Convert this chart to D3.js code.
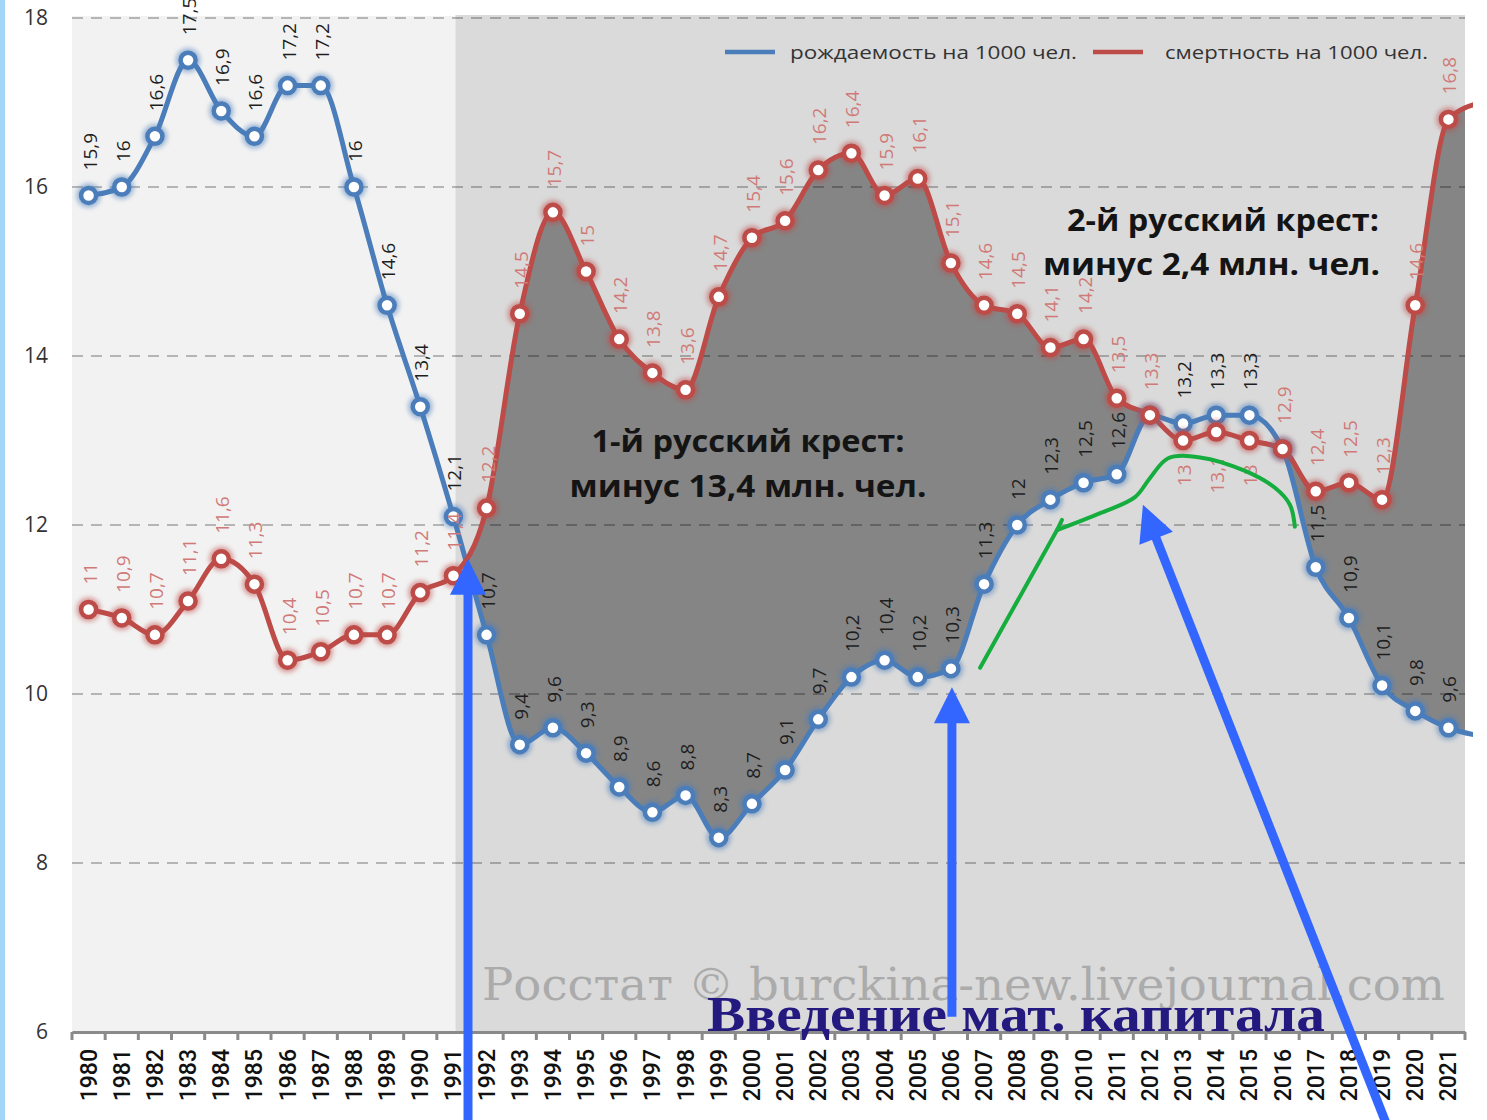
<!DOCTYPE html>
<html>
<head>
<meta charset="utf-8">
<script src="https://d3js.org/d3.v7.min.js"></script>
<style>
  body { margin: 0; background: #fff; }
  svg { display: block; font-family: "Open Sans", sans-serif; }
  .val { font-size: 19px; }
  .yl { font-size: 21px; fill: #333; }
  .xl { font-family: Roboto, sans-serif; font-size: 23px; font-weight: 500; fill: #111; }
</style>
</head>
<body>
<svg id="chart" width="1487" height="1120"></svg>
<script>
// years on the axis
const years = [1980,1981,1982,1983,1984,1985,1986,1987,1988,1989,1990,1991,1992,1993,1994,1995,
  1996,1997,1998,1999,2000,2001,2002,2003,2004,2005,2006,2007,2008,2009,2010,2011,2012,2013,
  2014,2015,2016,2017,2018,2019,2020,2021];
// рождаемость / смертность на 1000 чел.
const birth = [15.9,16,16.6,17.5,16.9,16.6,17.2,17.2,16,14.6,13.4,12.1,
  10.7,9.4,9.6,9.3,8.9,8.6,8.8,8.3,8.7,9.1,
  9.7,10.2,10.4,10.2,10.3,11.3,12,12.3,12.5,12.6,
  13.3,13.2,13.3,13.3,12.9,11.5,10.9,10.1,9.8,9.6];
const death = [11,10.9,10.7,11.1,11.6,11.3,10.4,10.5,10.7,10.7,11.2,11.4,
  12.2,14.5,15.7,15,14.2,13.8,13.6,14.7,15.4,15.6,
  16.2,16.4,15.9,16.1,15.1,14.6,14.5,14.1,14.2,13.5,
  13.3,13,13.1,13,12.9,12.4,12.5,12.3,14.6,16.8];
// the lines run a little past 2021 and get cut at the frame
const tailYear = 2022, birthTail = 9.5, deathTail = 17.0;
const yTicks = [6,8,10,12,14,16,18];
const noBirthLabel = [2012, 2016];
const deathLabelBelow = [2013, 2014, 2015];
const splitYear = 1991;

const pLeft = 72, pRight = 1465, pTop = 18, pBottom = 1032;
const svg = d3.select("#chart");

const x = d3.scaleBand().domain(years).range([pLeft, pRight]);
const bw = x.bandwidth();
const cx = yr => yr === tailYear ? x(2021) + bw * 1.5 : x(yr) + bw / 2;
// continuous year scale for annotations
const xl = d3.scaleLinear().domain([1980, 2021]).range([cx(1980), cx(2021)]);
const y = d3.scaleLinear().domain([6, 18]).range([pBottom, pTop]);

const bPts = years.map((yr, i) => [yr, birth[i]]).concat([[tailYear, birthTail]]);
const dPts = years.map((yr, i) => [yr, death[i]]).concat([[tailYear, deathTail]]);

const defs = svg.append("defs");
defs.append("filter").attr("id", "glow").attr("x", "-50%").attr("y", "-50%")
  .attr("width", "200%").attr("height", "200%")
  .append("feGaussianBlur").attr("stdDeviation", 2.5);
defs.append("clipPath").attr("id", "plotClip").append("rect")
  .attr("x", pLeft).attr("y", 0).attr("width", pRight - pLeft).attr("height", pBottom);
defs.append("clipPath").attr("id", "lineClip").append("rect")
  .attr("x", 0).attr("y", 0).attr("width", pRight + 8).attr("height", 1120);

const curve = d3.curveMonotoneX;
// region below the red line -> used as clip for the fill above the blue line
defs.append("clipPath").attr("id", "belowDeath").append("path")
  .attr("d", d3.area().curve(curve).x(d => cx(d[0])).y0(pBottom + 50).y1(d => y(d[1]))(dPts));

// backgrounds
svg.append("rect").attr("x", pLeft).attr("y", pTop - 2).attr("width", cx(splitYear) + 2 - pLeft)
  .attr("height", pBottom - pTop + 2).attr("fill", "#f2f2f2");
svg.append("rect").attr("x", cx(splitYear) + 2).attr("y", pTop - 3).attr("width", pRight - cx(splitYear) - 2)
  .attr("height", pBottom - pTop + 3).attr("fill", "#dadada");

// loss area
svg.append("g").attr("clip-path", "url(#plotClip)")
  .append("g").attr("clip-path", "url(#belowDeath)")
  .append("path")
  .attr("d", d3.area().curve(curve).x(d => cx(d[0])).y0(-50).y1(d => y(d[1]))(bPts))
  .attr("fill", "#858585");

// grid
svg.append("g").selectAll("line").data(yTicks.filter(t => t > 6)).join("line")
  .attr("x1", pLeft).attr("x2", pRight).attr("y1", d => y(d)).attr("y2", d => y(d))
  .attr("stroke", "rgba(0,0,0,0.25)").attr("stroke-width", 2).attr("stroke-dasharray", "11,8");

// y labels
svg.append("g").selectAll("text").data(yTicks).join("text").attr("class", "yl")
  .attr("x", 48).attr("y", d => y(d) + 7).attr("text-anchor", "end").text(d => d);

// x axis
const xAxis = svg.append("g").attr("transform", `translate(0,${pBottom})`)
  .call(d3.axisBottom(x).tickSize(0).tickFormat(""));
xAxis.select(".domain").attr("stroke", "#8a8a8a").attr("stroke-width", 3);
svg.append("g").selectAll("line").data(years.concat([tailYear])).join("line")
  .attr("x1", d => d === tailYear ? pRight : x(d)).attr("x2", d => d === tailYear ? pRight : x(d))
  .attr("y1", pBottom).attr("y2", pBottom + 8).attr("stroke", "#8a8a8a").attr("stroke-width", 3);
svg.append("g").selectAll("text").data(years).join("text").attr("class", "xl")
  .attr("transform", d => `translate(${cx(d) + 8},${pBottom + 17}) rotate(-90)`)
  .attr("text-anchor", "end").text(d => d);

// lines
const line = d3.line().curve(curve).x(d => cx(d[0])).y(d => y(d[1]));
const series = [
  {pts: bPts, color: "#4a7dba", label: "#1e1e1e", skip: noBirthLabel, below: []},
  {pts: dPts, color: "#bd4b48", label: "#d07a78", skip: [], below: deathLabelBelow}
];
series.forEach(s => {
  svg.append("path").attr("clip-path", "url(#lineClip)").attr("d", line(s.pts))
    .attr("fill", "none").attr("stroke", s.color).attr("stroke-width", 5);
});
series.forEach(s => {
  const pts = s.pts.filter(d => d[0] !== tailYear);
  const g = svg.append("g");
  g.selectAll("circle.halo").data(pts).join("circle").attr("class", "halo")
    .attr("cx", d => cx(d[0])).attr("cy", d => y(d[1])).attr("r", 12)
    .attr("fill", s.color).attr("opacity", 0.55).attr("filter", "url(#glow)");
  g.selectAll("circle.dot").data(pts).join("circle").attr("class", "dot")
    .attr("cx", d => cx(d[0])).attr("cy", d => y(d[1])).attr("r", 7.5)
    .attr("fill", "#fff").attr("stroke", s.color).attr("stroke-width", 4.5);
  svg.append("g").selectAll("text").data(pts.filter(d => !s.skip.includes(d[0]))).join("text")
    .attr("class", "val").attr("fill", s.label)
    .attr("transform", d => {
      const b = s.below.includes(d[0]);
      return `translate(${cx(d[0]) + 8},${y(d[1]) + (b ? 24 : -25)}) rotate(-90)`;
    })
    .attr("text-anchor", d => s.below.includes(d[0]) ? "end" : "start")
    .text(d => String(d[1]).replace(".", ","));
});

// legend
const legend = [
  {x: 725, color: "#4a7dba", text: "рождаемость на 1000 чел.", w: 287},
  {x: 1093, color: "#bd4b48", text: "смертность на 1000 чел.", w: 263}
];
const lg = svg.append("g").selectAll("g").data(legend).join("g");
lg.append("line").attr("x1", d => d.x).attr("x2", d => d.x + 50).attr("y1", 52).attr("y2", 52)
  .attr("stroke", d => d.color).attr("stroke-width", 4.5);
lg.append("text").attr("x", d => d.x + 65 + (d.x > 1000 ? 7 : 0)).attr("y", 59)
  .attr("font-size", 19).attr("fill", "#333")
  .attr("textLength", d => d.w).attr("lengthAdjust", "spacingAndGlyphs").text(d => d.text);

// captions
const bold = (tx, ty, anchor, str, w) => svg.append("text").attr("x", tx).attr("y", ty)
  .attr("text-anchor", anchor).attr("font-size", 30).attr("font-weight", 700).attr("fill", "#141414")
  .attr("textLength", w).attr("lengthAdjust", "spacingAndGlyphs").text(str);
bold(748, 452, "middle", "1-й русский крест:", 313);
bold(748, 497, "middle", "минус 13,4 млн. чел.", 357);
bold(1379, 231, "end", "2-й русский крест:", 312);
bold(1380, 275, "end", "минус 2,4 млн. чел.", 337);

// watermark
svg.append("text").attr("x", 482).attr("y", 1000).attr("font-family", "'DejaVu Serif', serif")
  .attr("font-size", 44).attr("fill", "#ababab")
  .attr("textLength", 963).attr("lengthAdjust", "spacingAndGlyphs")
  .text("Росстат © burckina-new.livejournal.com");

// annotations drawn on top
const arrows = [
  {from: [1991.44, 4.9], to: [1991.44, 11.6]},
  {from: [2006.03, 6.18], to: [2006.03, 10.08]},
  {from: [2019.14, 4.9], to: [2011.79, 12.24]}
];
arrows.forEach(a => {
  const x1 = xl(a.from[0]), y1 = y(a.from[1]), x2 = xl(a.to[0]), y2 = y(a.to[1]);
  const len = Math.hypot(x2 - x1, y2 - y1), ux = (x2 - x1) / len, uy = (y2 - y1) / len;
  const L = 36, W = 18, bx = x2 - ux * L, by = y2 - uy * L;
  svg.append("line").attr("x1", x1).attr("y1", y1).attr("x2", bx + ux * 2).attr("y2", by + uy * 2)
    .attr("stroke", "#3366ff").attr("stroke-width", 9);
  svg.append("polygon").attr("fill", "#3366ff")
    .attr("points", [[x2, y2], [bx - uy * W, by + ux * W], [bx + uy * W, by - ux * W]].join(" "));
});

const greenA = [[2006.88, 10.31], [2009.20, 11.94]];
const greenHook = [[2009.20, 11.94], [2009.35, 12.06]];
const greenB = [[2009.20, 11.94], [2010.50, 12.14], [2011.55, 12.33], [2012.01, 12.56], [2012.55, 12.79],
  [2013.51, 12.80], [2014.87, 12.64], [2015.77, 12.44], [2016.22, 12.24], [2016.37, 11.98]];
const gl = d3.line().x(d => xl(d[0])).y(d => y(d[1]));
[greenA, greenHook].forEach(p => svg.append("path").attr("d", gl(p)).attr("fill", "none")
  .attr("stroke", "#16ad3f").attr("stroke-width", 4).attr("stroke-linecap", "round"));
svg.append("path").attr("d", gl.curve(d3.curveCatmullRom)(greenB)).attr("fill", "none")
  .attr("stroke", "#16ad3f").attr("stroke-width", 4).attr("stroke-linecap", "round");

svg.append("text").attr("x", 707).attr("y", 1031).attr("font-family", "'Liberation Serif', serif")
  .attr("font-weight", 700).attr("font-size", 50).attr("fill", "#23197f")
  .attr("textLength", 618).attr("lengthAdjust", "spacingAndGlyphs").text("Введение мат. капитала");

// blue strip on the left edge
svg.append("rect").attr("x", 0).attr("y", 0).attr("width", 5).attr("height", 1120).attr("fill", "#a3d6f7");
</script>
</body>
</html>
